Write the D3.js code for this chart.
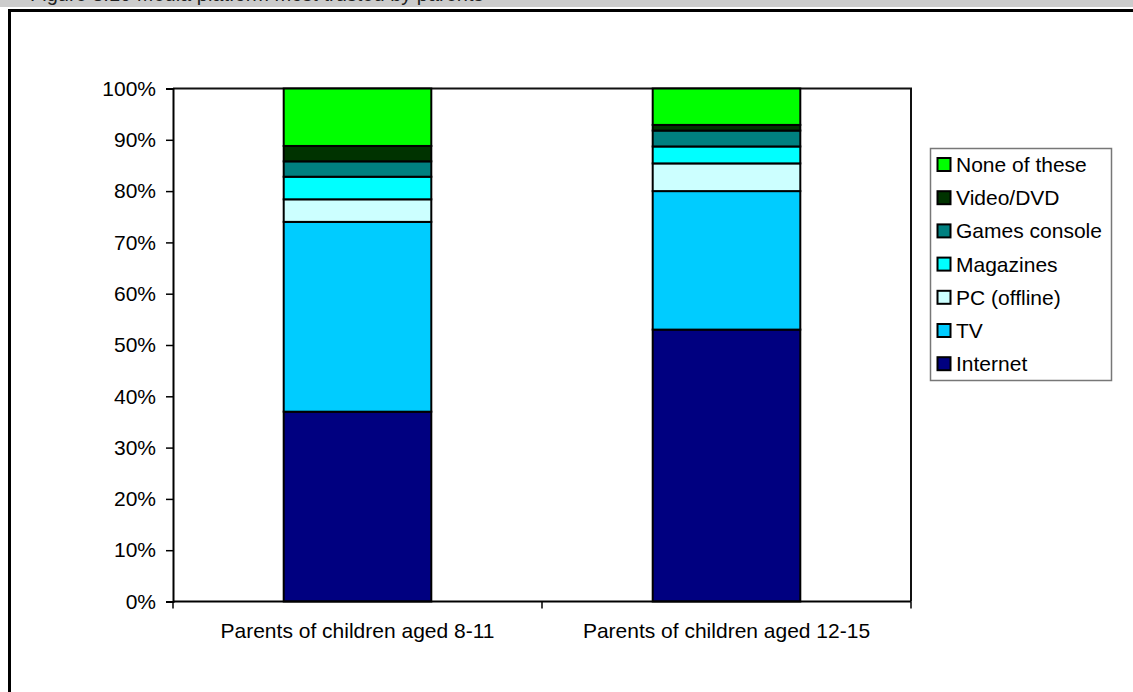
<!DOCTYPE html>
<html>
<head>
<meta charset="utf-8">
<script src="https://cdn.jsdelivr.net/npm/d3@7"></script>
<style>
  html, body { margin: 0; padding: 0; background: #fff; overflow: hidden; }
  svg { display: block; font-family: "Liberation Sans", Arial, sans-serif; }
</style>
</head>
<body>
<svg id="chart" width="1133" height="692"></svg>
<script>
// Groups of parents on the x axis
const categories = ["Parents of children aged 8-11", "Parents of children aged 12-15"];

// Stacked series, bottom to top (percent of each group)
const seriesNames = ["Internet", "TV", "PC (offline)", "Magazines", "Games console", "Video/DVD", "None of these"];
const internet   = [37.0, 53.0];
const tv         = [37.0, 27.0];
const pcOffline  = [4.4, 5.4];
const magazines  = [4.4, 3.3];
const games      = [3.0, 3.1];
const videoDvd   = [3.0, 1.1];
const noneOfThese = [11.2, 7.1];
const seriesColors = ["#000080", "#00CCFF", "#CCFFFF", "#00FFFF", "#008080", "#003300", "#00FF00"];

const yTicks = [0, 10, 20, 30, 40, 50, 60, 70, 80, 90, 100];
const titleText = "Figure 3.10 Media platform most trusted by parents";

const seriesValues = [internet, tv, pcOffline, magazines, games, videoDvd, noneOfThese];
const rows = categories.map((c, i) => {
  const r = { category: c };
  seriesNames.forEach((s, k) => { r[s] = seriesValues[k][i]; });
  return r;
});

const svg = d3.select("#chart");

// Caption strip along the top edge (only the foot of the caption falls inside the page)
svg.append("defs").append("clipPath").attr("id", "capClip")
  .append("rect").attr("x", 0).attr("y", 0).attr("width", 1133).attr("height", 7);
svg.append("rect").attr("x", 0).attr("y", 0).attr("width", 1133).attr("height", 7).attr("fill", "#cccccc");
svg.append("text").attr("clip-path", "url(#capClip)")
  .attr("x", 30).attr("y", 1).attr("font-size", 20).attr("fill", "#222")
  .text(titleText);

// Outer frame
svg.append("rect").attr("x", 9.5).attr("y", 10.5).attr("width", 1200).attr("height", 800)
  .attr("fill", "#fff").attr("stroke", "#000").attr("stroke-width", 3);

const plot = { left: 173, right: 911, top: 88.5, bottom: 601.5 };

const x = d3.scaleBand().domain(categories).range([plot.left, plot.right]).paddingInner(0).paddingOuter(0);
const y = d3.scaleLinear().domain([0, 100]).range([plot.bottom, plot.top]);
const barWidth = x.bandwidth() / 2.5;

const stack = d3.stack().keys(seriesNames);
const stacked = stack(rows);

// Plot area border (top and right)
svg.append("path")
  .attr("d", `M${plot.left},${plot.top}H${plot.right}V${plot.bottom}`)
  .attr("fill", "none").attr("stroke", "#111").attr("stroke-width", 2);

// Bars
const layers = svg.append("g").selectAll("g").data(stacked).join("g")
  .attr("fill", (d, i) => seriesColors[i]);
layers.selectAll("rect").data(d => d).join("rect")
  .attr("x", d => x(d.data.category) + (x.bandwidth() - barWidth) / 2)
  .attr("width", barWidth)
  .attr("y", d => y(d[1]))
  .attr("height", d => y(d[0]) - y(d[1]))
  .attr("stroke", "#000").attr("stroke-width", 2);

// Y axis
const yAxis = d3.axisLeft(y).tickValues(yTicks).tickFormat(d => d + "%").tickSize(7).tickPadding(10);
const gy = svg.append("g").attr("transform", `translate(${plot.left},0)`).call(yAxis);
gy.select(".domain").attr("stroke", "#000").attr("stroke-width", 2);
gy.selectAll(".tick line").attr("stroke", "#000").attr("stroke-width", 1.5);
gy.selectAll(".tick text").attr("font-size", 21).attr("fill", "#000")
  .attr("font-family", "'Liberation Sans', Arial, sans-serif");

// X axis with boundary ticks between categories
const gx = svg.append("g").attr("transform", `translate(0,${plot.bottom})`);
gx.append("line").attr("x1", plot.left).attr("x2", plot.right).attr("stroke", "#000").attr("stroke-width", 2);
const boundaries = categories.map(c => x(c)).concat([x(categories[categories.length - 1]) + x.bandwidth()]);
gx.selectAll("line.tick").data(boundaries).join("line").attr("class", "tick")
  .attr("x1", d => d).attr("x2", d => d).attr("y1", 0).attr("y2", 7)
  .attr("stroke", "#000").attr("stroke-width", 1.5);
gx.selectAll("text").data(categories).join("text")
  .attr("x", d => x(d) + x.bandwidth() / 2).attr("y", 36)
  .attr("text-anchor", "middle").attr("font-size", 21).attr("fill", "#000")
  .text(d => d);

// Legend (top entry is the top of the stack)
const legend = svg.append("g");
legend.append("rect").attr("x", 930.5).attr("y", 148.5).attr("width", 181).attr("height", 232)
  .attr("fill", "#fff").attr("stroke", "#777").attr("stroke-width", 1.5);
const legendItems = seriesNames.map((s, i) => ({ name: s, color: seriesColors[i] })).reverse();
const li = legend.selectAll("g.item").data(legendItems).join("g").attr("class", "item")
  .attr("transform", (d, i) => `translate(937,${158 + i * 33.2})`);
li.append("rect").attr("x", 0.5).attr("y", 0).attr("width", 13).attr("height", 13)
  .attr("fill", d => d.color).attr("stroke", "#000").attr("stroke-width", 2);
li.append("text").attr("x", 19).attr("y", 14).attr("font-size", 21).attr("fill", "#000")
  .text(d => d.name);
</script>
</body>
</html>
